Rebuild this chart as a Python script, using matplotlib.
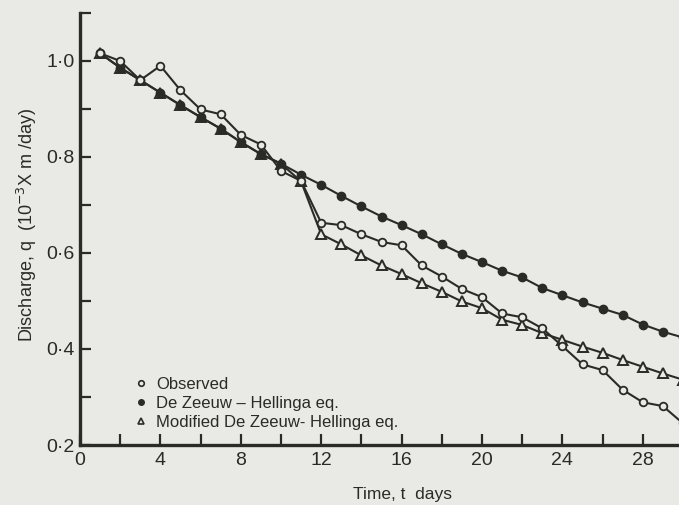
import matplotlib
matplotlib.use("Agg")
import matplotlib.pyplot as plt
from matplotlib.lines import Line2D
from matplotlib.ticker import MultipleLocator, FixedLocator, FixedFormatter

# data
days = list(range(1, 31))
observed = [1.016, 1.000, 0.960, 0.990, 0.939, 0.899, 0.889, 0.846, 0.826, 0.771,
            0.750, 0.663, 0.658, 0.639, 0.623, 0.616, 0.574, 0.551, 0.525, 0.508,
            0.474, 0.466, 0.443, 0.406, 0.368, 0.356, 0.315, 0.289, 0.281, 0.245]
de_zeeuw = [1.016, 0.986, 0.960, 0.934, 0.908, 0.883, 0.859, 0.831, 0.806, 0.786,
            0.763, 0.742, 0.719, 0.697, 0.676, 0.658, 0.639, 0.618, 0.598, 0.581,
            0.563, 0.549, 0.527, 0.512, 0.497, 0.484, 0.471, 0.451, 0.436, 0.424]
modified = [1.016, 0.986, 0.960, 0.934, 0.908, 0.883, 0.859, 0.831, 0.806, 0.786,
            0.749, 0.639, 0.618, 0.595, 0.574, 0.556, 0.537, 0.519, 0.499, 0.485,
            0.461, 0.450, 0.433, 0.419, 0.405, 0.392, 0.377, 0.363, 0.349, 0.336]

x_ticks = [0, 4, 8, 12, 16, 20, 24, 28]
x_labels = ["0", "4", "8", "12", "16", "20", "24", "28"]
y_ticks = [0.2, 0.4, 0.6, 0.8, 1.0]
y_labels = ["0\u00b72", "0\u00b74", "0\u00b76", "0\u00b78", "1\u00b70"]

paper = "#e9e9e5"
ink = "#2a2a27"

plt.rcParams['font.family'] = ['Liberation Sans', 'DejaVu Sans']

fig = plt.figure(figsize=(6.79, 5.05), dpi=100, facecolor=paper)
ax = fig.add_axes([0.1178, 0.1188, 0.8822, 0.8555])
ax.set_facecolor(paper)

ax.plot(days, modified, color=ink, lw=1.5, marker='^', ms=7.5,
        mfc=paper, mec=ink, mew=1.4, zorder=2)
ax.plot(days, de_zeeuw, color=ink, lw=1.5, marker='o', ms=6,
        mfc=ink, mec=ink, zorder=3)
ax.plot(days, observed, color=ink, lw=1.5, marker='o', ms=5.5,
        mfc=paper, mec=ink, mew=1.3, zorder=4)

ax.set_xlim(0, 29.8)
ax.set_ylim(0.2, 1.1)

ax.xaxis.set_major_locator(FixedLocator(x_ticks))
ax.xaxis.set_major_formatter(FixedFormatter(x_labels))
ax.xaxis.set_minor_locator(MultipleLocator(2))
ax.yaxis.set_major_locator(FixedLocator(y_ticks))
ax.yaxis.set_major_formatter(FixedFormatter(y_labels))
ax.yaxis.set_minor_locator(MultipleLocator(0.1))

ax.tick_params(which='both', direction='in', length=8, width=1.6, color=ink,
               labelcolor=ink, labelsize=14)
ax.tick_params(axis='y', which='both', pad=4)
ax.tick_params(axis='x', which='both', pad=5)

for side in ['top', 'right']:
    ax.spines[side].set_visible(False)
for side in ['left', 'bottom']:
    ax.spines[side].set_linewidth(2.4)
    ax.spines[side].set_color(ink)

fig.text(0.04, 0.555, "Discharge, q  (10$^{-3}$X m /day)", rotation=90,
         ha='center', va='center', fontsize=13, color=ink)
fig.text(0.593, 0.02, "Time, t  days", ha='center', va='center',
         fontsize=12.5, color=ink)

handles = [
    Line2D([], [], ls='none', marker='o', ms=4, mfc=paper, mec=ink, mew=1.2),
    Line2D([], [], ls='none', marker='o', ms=4, mfc=ink, mec=ink),
    Line2D([], [], ls='none', marker='^', ms=5, mfc=paper, mec=ink, mew=1.2),
]
labels = ["Observed", "De Zeeuw \u2013 Hellinga eq.", "Modified De Zeeuw- Hellinga eq."]
leg = ax.legend(handles, labels, loc='lower left', bbox_to_anchor=(0.072, 0.007),
                frameon=False, handlelength=0.8, handletextpad=0.5,
                labelspacing=0.25, fontsize=12, borderaxespad=0.3)
for t in leg.get_texts():
    t.set_color(ink)

fig.savefig("out.png", dpi=100, facecolor=paper)
